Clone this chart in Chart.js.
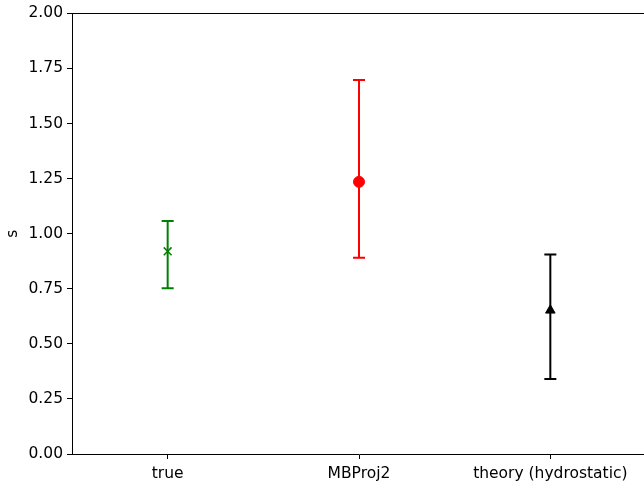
<!DOCTYPE html>
<html>
<head>
<meta charset="utf-8">
<script src="https://cdn.jsdelivr.net/npm/chart.js@4"></script>
<style>
  html, body { margin: 0; padding: 0; background: #fff; overflow: hidden; }
  #wrap { width: 644px; height: 483px; overflow: hidden; }
</style>
</head>
<body>
<div id="wrap"><canvas id="errChart" width="653" height="483"></canvas></div>
<script>
// data
const categories = ["true", "MBProj2", "theory (hydrostatic)"];
const centerVals = [0.92, 1.235, 0.652];
const lowerVals  = [0.752, 0.891, 0.34];
const upperVals  = [1.057, 1.697, 0.905];
const yTicks = [0, 0.25, 0.5, 0.75, 1, 1.25, 1.5, 1.75, 2];

const colors = ["#008000", "#ff0000", "#000000"];
const markers = ["crossRot", "circle", "triangle"];

const FONT = "'DejaVu Sans', sans-serif";

// error bars + top spine
const errorBarPlugin = {
  id: "errorBars",
  beforeDatasetsDraw(chart) {
    const ctx = chart.ctx;
    const xs = chart.scales.x, ys = chart.scales.y;
    ctx.save();
    for (let i = 0; i < categories.length; i++) {
      const px = xs.getPixelForValue(i);
      const yl = ys.getPixelForValue(lowerVals[i]);
      const yu = ys.getPixelForValue(upperVals[i]);
      ctx.strokeStyle = colors[i];
      ctx.lineWidth = 2;
      ctx.beginPath();
      ctx.moveTo(px, yl); ctx.lineTo(px, yu);
      ctx.moveTo(px - 6, yl); ctx.lineTo(px + 6, yl);
      ctx.moveTo(px - 6, yu); ctx.lineTo(px + 6, yu);
      ctx.stroke();
    }
    ctx.restore();
  },
  afterDraw(chart) {
    const ctx = chart.ctx, a = chart.chartArea;
    ctx.save();
    ctx.strokeStyle = "#000";
    ctx.lineWidth = 1;
    ctx.beginPath();
    ctx.moveTo(a.left, Math.round(a.top) + 0.5);
    ctx.lineTo(a.right, Math.round(a.top) + 0.5);
    ctx.stroke();
    ctx.restore();
  }
};

const datasets = categories.map((c, i) => ({
  label: c,
  data: [{ x: i, y: centerVals[i] }],
  pointStyle: markers[i],
  pointRadius: 5.5,
  backgroundColor: colors[i],
  borderColor: colors[i],
  borderWidth: i === 0 ? 1.5 : 1,
  showLine: false
}));

new Chart(document.getElementById("errChart"), {
  type: "scatter",
  data: { datasets: datasets },
  options: {
    responsive: false,
    animation: false,
    layout: { padding: { top: 13, right: 0, left: 0, bottom: 0 } },
    plugins: { legend: { display: false }, tooltip: { enabled: false } },
    scales: {
      x: {
        type: "linear",
        min: -0.5,
        max: 2.5,
        afterBuildTicks(axis) { axis.ticks = categories.map((c, i) => ({ value: i })); },
        afterFit(axis) {
          axis.height = 29;
          axis.paddingLeft = 0;
          axis.paddingRight = 0;
        },
        ticks: {
          callback: (v) => categories[v],
          color: "#000",
          font: { family: FONT, size: 15.5 },
          padding: 6,
          maxRotation: 0,
          autoSkip: false
        },
        grid: { drawOnChartArea: false, tickLength: 5, tickColor: "#000", tickWidth: 1 },
        border: { display: true, color: "#000", width: 1 }
      },
      y: {
        min: 0,
        max: 2,
        afterBuildTicks(axis) { axis.ticks = yTicks.map(v => ({ value: v })); },
        afterFit(axis) { axis.width = 72; },
        ticks: {
          callback: (v) => v.toFixed(2),
          color: "#000",
          font: { family: FONT, size: 15.5 },
          padding: 4
        },
        title: {
          display: true,
          text: "s",
          color: "#000",
          font: { family: FONT, size: 15.5 },
          padding: { top: 4, bottom: 0 }
        },
        grid: { drawOnChartArea: false, tickLength: 5, tickColor: "#000", tickWidth: 1 },
        border: { display: true, color: "#000", width: 1 }
      }
    }
  },
  plugins: [errorBarPlugin]
});
</script>
</body>
</html>
